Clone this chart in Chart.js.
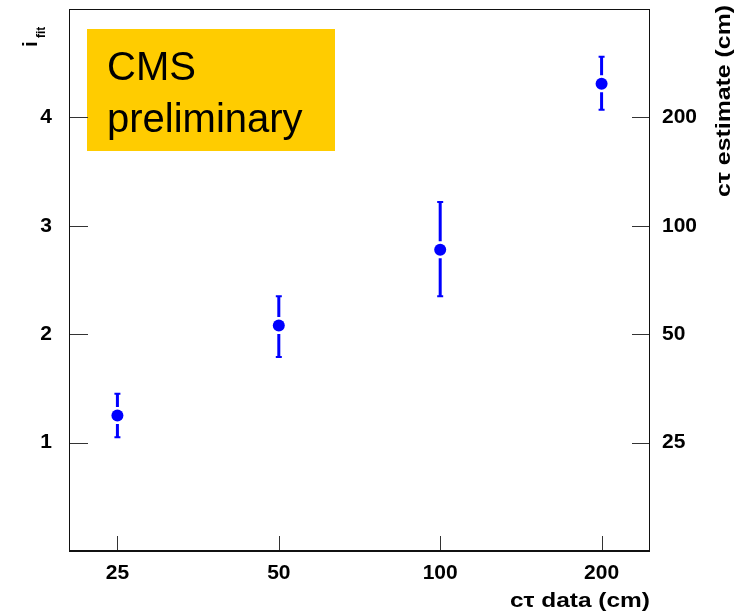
<!DOCTYPE html>
<html>
<head>
<meta charset="utf-8">
<script src="https://cdn.jsdelivr.net/npm/chart.js@4"></script>
<style>
  html, body { margin: 0; padding: 0; background: #fff; }
  #wrap { width: 737px; height: 616px; }
</style>
</head>
<body>
<div id="wrap"><canvas id="chart" width="737" height="616"></canvas></div>
<script>
// c tau data categories (x axis)
const categories = ['25', '50', '100', '200']
// fitted i values and error bar ends
const iFit = [1.25, 2.08, 2.78, 4.31]
const iLow = [1.05, 1.79, 2.35, 4.07]
const iHigh = [1.45, 2.35, 3.22, 4.56]
// axis ticks
const leftTicks = [1, 2, 3, 4]
const rightTickLabels = ['25', '50', '100', '200']

const tickFont = { family: 'Liberation Sans, Arial, sans-serif', size: 21, weight: 'bold' }

// error bars with a gap around the marker, like ROOT draws them
const errorBars = {
    id: 'errorBars',
    afterDatasetsDraw(chart) {
        const ctx = chart.ctx
        const x = chart.scales.x, y = chart.scales.y
        ctx.save()
        ctx.strokeStyle = '#0000ff'
        iFit.forEach((v, i) => {
            const px = x.getPixelForValue(i + 1)
            const py = y.getPixelForValue(v)
            const top = y.getPixelForValue(iHigh[i])
            const bot = y.getPixelForValue(iLow[i])
            ctx.lineWidth = 3
            ctx.beginPath()
            ctx.moveTo(px, top); ctx.lineTo(px, py - 8.5)
            ctx.moveTo(px, py + 8.5); ctx.lineTo(px, bot)
            ctx.stroke()
            ctx.lineWidth = 2
            ctx.beginPath()
            ctx.moveTo(px - 3, top); ctx.lineTo(px + 3, top)
            ctx.moveTo(px - 3, bot); ctx.lineTo(px + 3, bot)
            ctx.stroke()
        })
        ctx.restore()
    }
}

function fitText(ctx, text, x, y, width) {
    const w = ctx.measureText(text).width
    ctx.save()
    ctx.translate(x, y)
    ctx.scale(width / w, 1)
    ctx.fillText(text, 0, 0)
    ctx.restore()
}

// frame, inside ticks, titles and the CMS label
const decor = {
    id: 'decor',
    beforeDatasetsDraw(chart) {
        const ctx = chart.ctx
        const a = chart.chartArea
        const x = chart.scales.x, y = chart.scales.y
        ctx.save()

        // CMS preliminary box
        ctx.fillStyle = '#ffcc00'
        ctx.fillRect(a.left + 18, a.top + 20, 248, 122)
        ctx.fillStyle = '#000'
        ctx.font = '40px Liberation Sans, Arial, sans-serif'
        ctx.textBaseline = 'alphabetic'
        ctx.textAlign = 'left'
        ctx.fillText('CMS', a.left + 38, a.top + 71)
        ctx.fillText('preliminary', a.left + 38, a.top + 123)

        // ticks drawn inside the frame
        ctx.strokeStyle = '#333'
        ctx.lineWidth = 1
        ctx.beginPath()
        leftTicks.forEach(t => {
            const py = Math.round(y.getPixelForValue(t)) + 0.5
            ctx.moveTo(a.left, py); ctx.lineTo(a.left + 19, py)
            ctx.moveTo(a.right - 18, py); ctx.lineTo(a.right, py)
        })
        categories.forEach((c, i) => {
            const px = Math.round(x.getPixelForValue(i + 1)) + 0.5
            ctx.moveTo(px, a.bottom); ctx.lineTo(px, a.bottom - 15)
        })
        ctx.stroke()

        // frame
        ctx.strokeStyle = '#111'
        ctx.lineWidth = 1
        ctx.strokeRect(a.left + 0.5, a.top + 0.5, a.right - a.left - 1, a.bottom - a.top)
        ctx.lineWidth = 2
        ctx.beginPath()
        ctx.moveTo(a.left, a.bottom); ctx.lineTo(a.right, a.bottom)
        ctx.stroke()

        // titles
        ctx.fillStyle = '#000'
        ctx.font = 'bold 20px Liberation Sans, Arial, sans-serif'
        fitText(ctx, 'c\u03c4 data (cm)', a.right - 140, 607, 140)

        ctx.save()
        ctx.translate(730, 197)
        ctx.rotate(-Math.PI / 2)
        fitText(ctx, 'c\u03c4 estimate (cm)', 0, 0, 192)
        ctx.restore()

        ctx.save()
        ctx.translate(37, 47)
        ctx.rotate(-Math.PI / 2)
        ctx.font = 'bold 20px Liberation Sans, Arial, sans-serif'
        ctx.fillText('i', 0, 0)
        ctx.font = 'bold 12px Liberation Sans, Arial, sans-serif'
        ctx.fillText('fit', 9, 8)
        ctx.restore()

        ctx.restore()
    }
}

const noPad = s => {
    s.paddingTop = 0; s.paddingBottom = 0; s.paddingLeft = 0; s.paddingRight = 0
}

const ctx = document.getElementById('chart').getContext('2d')
new Chart(ctx, {
    type: 'scatter',
    data: {
        datasets: [{
            label: 'i fit',
            data: iFit.map((v, i) => ({ x: i + 1, y: v })),
            backgroundColor: '#0000ff',
            borderColor: '#0000ff',
            borderWidth: 0,
            pointRadius: 6,
            pointHoverRadius: 6
        }]
    },
    options: {
        responsive: false,
        animation: false,
        events: [],
        layout: { autoPadding: false, padding: { top: 9, left: 0, right: 0, bottom: 0 } },
        plugins: { legend: { display: false }, tooltip: { enabled: false } },
        scales: {
            x: {
                type: 'linear',
                min: 0.7,
                max: 4.3,
                afterBuildTicks: s => { s.ticks = categories.map((c, i) => ({ value: i + 1 })) },
                afterFit: s => { s.height = 65; noPad(s) },
                ticks: {
                    callback: v => categories[v - 1],
                    font: tickFont, color: '#000', padding: 10, maxRotation: 0
                },
                grid: { display: false, drawTicks: false },
                border: { display: false }
            },
            y: {
                position: 'left',
                min: 0,
                max: 5,
                afterBuildTicks: s => { s.ticks = leftTicks.map(t => ({ value: t })) },
                afterFit: s => { s.width = 69; noPad(s) },
                ticks: { font: tickFont, color: '#000', padding: 17 },
                grid: { display: false, drawTicks: false },
                border: { display: false }
            },
            y2: {
                position: 'right',
                min: 0,
                max: 5,
                afterBuildTicks: s => { s.ticks = leftTicks.map(t => ({ value: t })) },
                afterFit: s => { s.width = 87; noPad(s) },
                ticks: {
                    callback: (v, i) => rightTickLabels[i],
                    font: tickFont, color: '#000', padding: 12
                },
                grid: { display: false, drawTicks: false },
                border: { display: false }
            }
        }
    },
    plugins: [decor, errorBars]
})
</script>
</body>
</html>
